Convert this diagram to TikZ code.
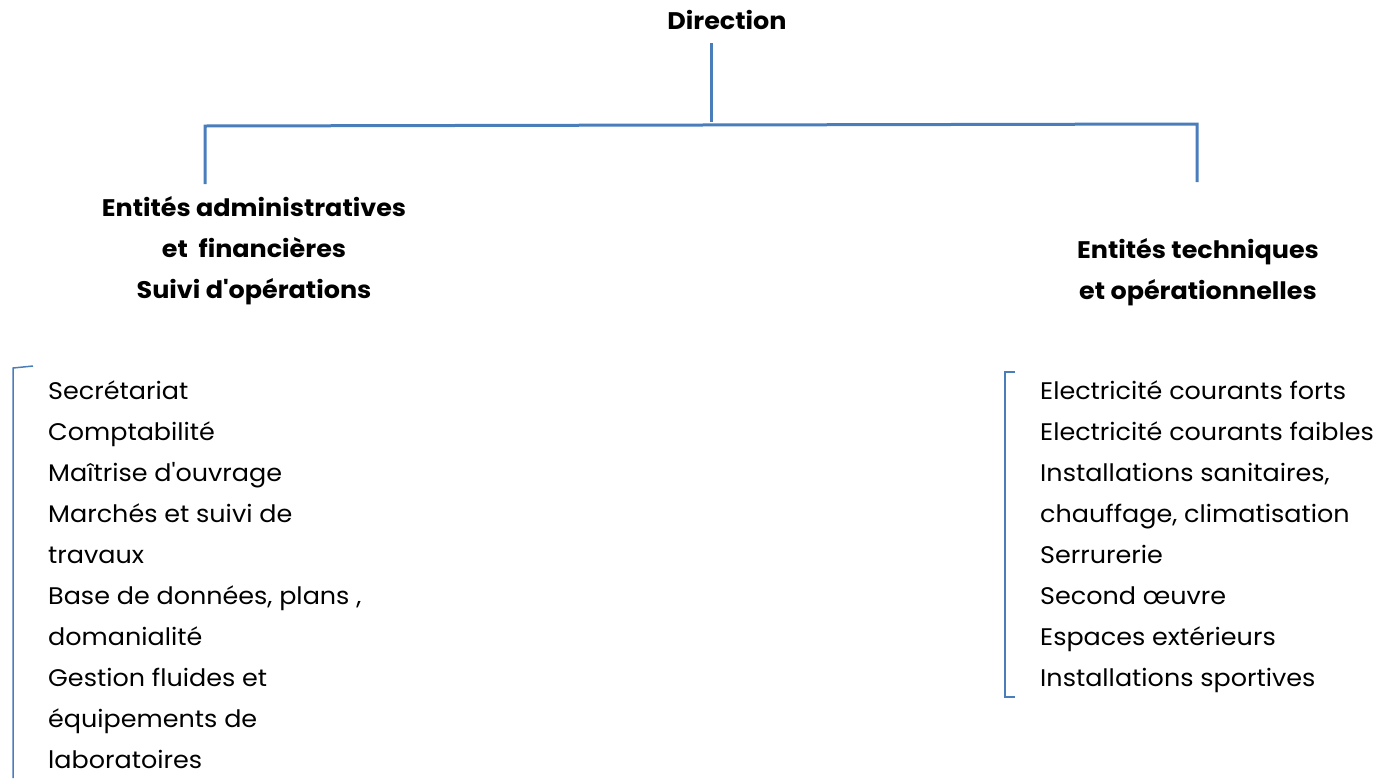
\documentclass[tikz,border=0pt]{standalone}
\usepackage{fontspec}
\setmainfont{Poppins}[FakeStretch=1.06,Ligatures=TeXOff]
\definecolor{lineblue}{HTML}{4A7EBB}
\begin{document}
\begin{tikzpicture}[x=1pt,y=-1pt,
  conn/.style={draw=lineblue,line width=3pt},
  brk/.style={draw=lineblue,line width=1.5pt},
  head/.style={font=\fontsize{24}{41}\selectfont\bfseries,align=center,inner sep=0pt},
  item/.style={font=\fontsize{24}{41}\selectfont,anchor=mid west,inner sep=0pt}]
\useasboundingbox (0,0) rectangle (1381,782);
\node[head] (dir) at (727,20) {Direction};
\node[head] (adm) at (254,251) {Entités administratives\\et\ \ financières\\Suivi d'opérations};
\node[head] (tec) at (1198,272) {Entités techniques\\et opérationnelles};
\coordinate (dt) at (711,43);
\coordinate (dm) at (711,122);
\coordinate (hl) at (205,126);
\coordinate (hr) at (1197,124);
\coordinate (al) at (205,184);
\coordinate (tr) at (1197,182);
\draw[conn] (dt) -- (dm);
\draw[conn] (al) -- (hl) -- (hr) -- (tr);
% left list
\foreach \t [count=\i from 0] in {Secrétariat,Comptabilité,Maîtrise d'ouvrage,Marchés et suivi de,travaux,{Base de données, plans ,},domanialité,Gestion fluides et,équipements de,laboratoires}
  \node[item] (l\i) at (48,397+41*\i) {\t};
\foreach \t [count=\i from 0] in {Electricité courants forts,Electricité courants faibles,{Installations sanitaires,},{chauffage, climatisation},Serrurerie,Second œuvre,Espaces extérieurs,Installations sportives}
  \node[item] (r\i) at (1040,397+41*\i) {\t};
\draw[brk] (33,366) -- (13,368) -- (13,778);
\draw[brk] (1015,372) -- (1005,372) -- (1005,697) -- (1015,697);
\end{tikzpicture}
\end{document}
